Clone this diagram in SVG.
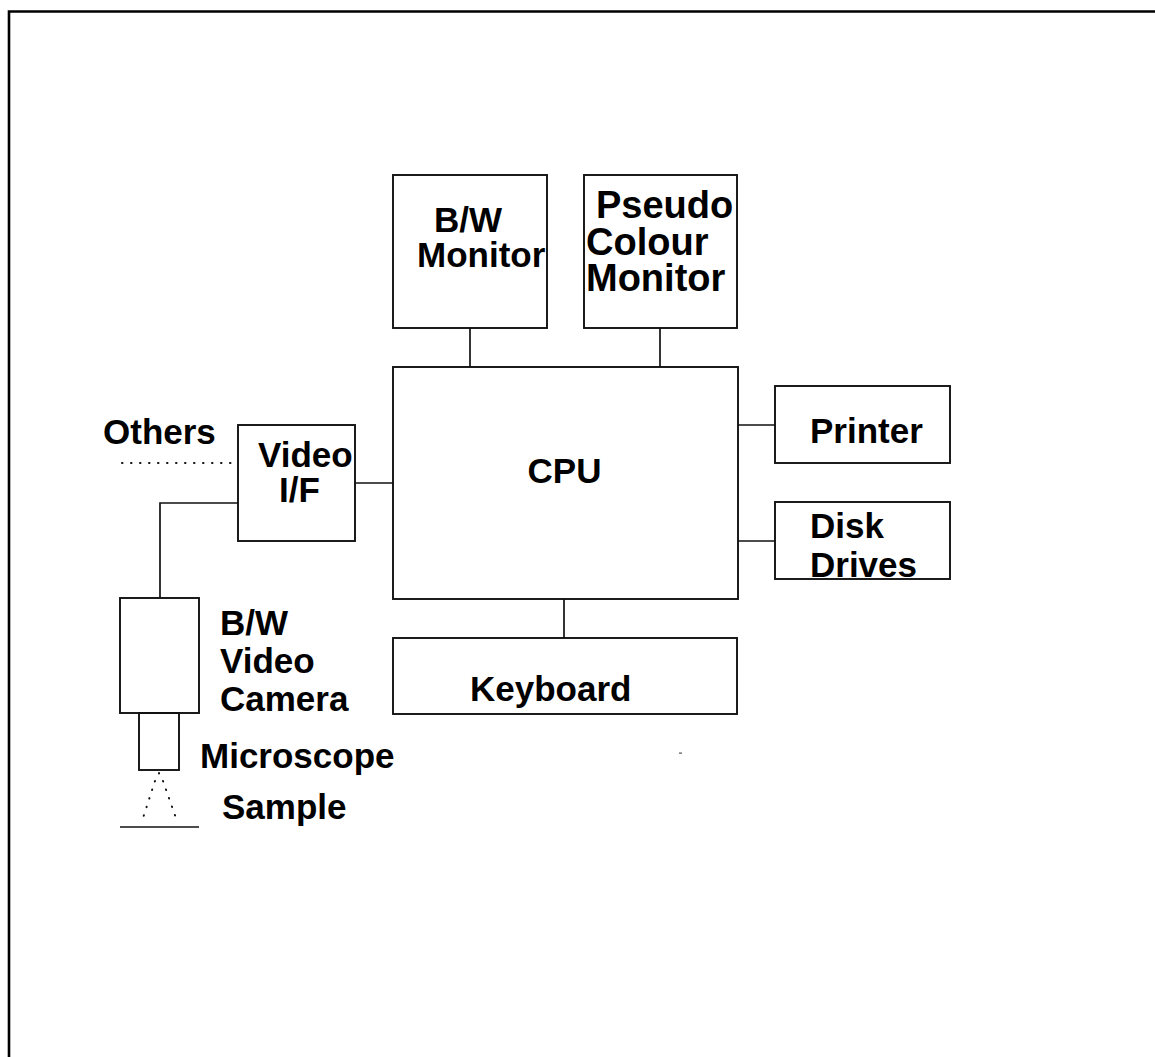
<svg xmlns="http://www.w3.org/2000/svg" width="1155" height="1057" viewBox="0 0 1155 1057">
<style>
.box{fill:none;stroke:#111;stroke-width:1.9}
.ln{fill:none;stroke:#111;stroke-width:1.7}
.dot{fill:none;stroke:#111;stroke-width:2;stroke-linecap:round;stroke-dasharray:0.5 8.5}
.t{font-family:"Liberation Sans",Arial,sans-serif;font-weight:bold;font-size:35px;fill:#000}
.big{font-size:38px}
.frame{fill:none;stroke:#000;stroke-width:2.6}
</style>
<rect width="1155" height="1057" fill="#fff"/>
<path class="frame" d="M9,1057 V11.5 H1155"/>
<g id="bw-monitor"><rect class="box" x="393" y="175" width="154" height="153"/><text class="t" x="434" y="232">B/W</text><text class="t" x="417" y="267">Monitor</text></g>
<g id="pseudo-monitor"><rect class="box" x="584" y="175" width="153" height="153"/><text class="t big" x="596" y="218">Pseudo</text><text class="t big" x="586" y="255">Colour</text><text class="t big" x="586" y="291">Monitor</text></g>
<g id="cpu"><rect class="box" x="393" y="367" width="345" height="232"/><text class="t" x="564.5" y="483" text-anchor="middle">CPU</text></g>
<g id="printer"><rect class="box" x="775" y="386" width="175" height="77"/><text class="t" x="810" y="443">Printer</text></g>
<g id="disk-drives"><rect class="box" x="775" y="502" width="175" height="77"/><text class="t" x="810" y="538">Disk</text><text class="t" x="810" y="577">Drives</text></g>
<g id="keyboard"><rect class="box" x="393" y="638" width="344" height="76"/><text class="t" x="470" y="701">Keyboard</text></g>
<g id="video-if"><rect class="box" x="238" y="425" width="117" height="116"/><text class="t" x="258" y="467">Video</text><text class="t" x="279" y="502">I/F</text></g>
<g id="others"><text class="t" x="103" y="444">Others</text></g>
<g id="camera"><rect class="box" x="120" y="598" width="79" height="115"/><text class="t" x="220" y="635">B/W</text><text class="t" x="220" y="673">Video</text><text class="t" x="220" y="711">Camera</text></g>
<g id="microscope"><rect class="box" x="139" y="713" width="40" height="57"/><text class="t" x="200" y="768">Microscope</text></g>
<g id="sample"><path class="dot" d="M159,773 L159,774 M155,781 L142,821 M163,781 L177,821"/><path class="ln" d="M120,827 H199"/><text class="t" x="222" y="819">Sample</text></g>
<g id="connectors">
<path class="ln" d="M470,328 V367"/>
<path class="ln" d="M660,328 V367"/>
<path class="ln" d="M738,425 H775"/>
<path class="ln" d="M738,541 H775"/>
<path class="ln" d="M564,599 V638"/>
<path class="ln" d="M355,483 H393"/>
<path class="ln" d="M238,503 H160 V598"/>
<path class="dot" d="M122,463 H238"/>
</g>
<rect x="679" y="752.5" width="3" height="1.2" fill="#555"/>
</svg>
